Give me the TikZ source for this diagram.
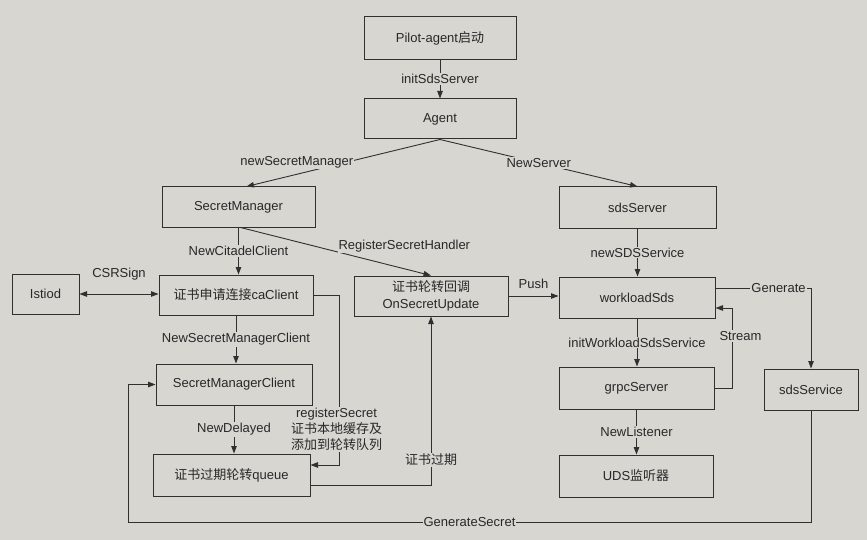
\documentclass[tikz,border=0pt]{standalone}
\usepackage{fontspec}
\setmainfont{Liberation Sans}
\newfontfamily\cjkfont{Noto Sans CJK SC}
\newcommand{\zhtxt}[1]{{\cjkfont #1}}
\usetikzlibrary{arrows.meta,calc}
\definecolor{bgc}{RGB}{216,214,209}
\definecolor{linec}{RGB}{48,48,48}
\definecolor{txtc}{RGB}{40,40,40}
\tikzset{
  box/.style={draw=linec, line width=1pt, inner sep=0pt, align=center, text=txtc,
    font=\fontsize{13}{15.5}\selectfont},
  lbl/.style={fill=bgc, inner sep=1pt, text=txtc, align=center,
    font=\fontsize{13}{15.5}\selectfont},
  arr/.style={draw=linec, line width=0.9pt, -{Triangle[length=7.5pt,width=5.5pt]}},
  darr/.style={draw=linec, line width=0.9pt, {Triangle[length=7.5pt,width=5.5pt]}-{Triangle[length=7.5pt,width=5.5pt]}}
}
\begin{document}
\begin{tikzpicture}[x=1pt,y=-1pt]
\fill[bgc] (0,0) rectangle (867,540);
\useasboundingbox (0,0) rectangle (867,540);

% boxes
\node[box, minimum width=152pt, minimum height=43pt] (pa) at (440,38) {Pilot-agent\zhtxt{启动}};
\node[box, minimum width=152pt, minimum height=40pt] (agent) at (440,119) {Agent};
\node[box, minimum width=153pt, minimum height=40pt] (sm) at (238.5,207) {SecretManager};
\node[box, minimum width=157pt, minimum height=41pt] (sds) at (637.5,207.5) {sdsServer};
\node[box, minimum width=67pt, minimum height=40pt] (istiod) at (45.5,294) {Istiod};
\node[box, minimum width=154pt, minimum height=40pt] (ca) at (236,295) {\zhtxt{证书申请连接}caClient};
\node[box, minimum width=154pt, minimum height=40pt] (osu) at (431,296) {\zhtxt{证书轮转回调}\\[1pt]OnSecretUpdate};
\node[box, minimum width=156pt, minimum height=41pt] (wsds) at (637,297.5) {workloadSds};
\node[box, minimum width=156pt, minimum height=41pt] (smc) at (234,384.5) {SecretManagerClient};
\node[box, minimum width=155pt, minimum height=42pt] (grpc) at (636.5,388) {grpcServer};
\node[box, minimum width=94pt, minimum height=41pt] (sdss) at (811,389.5) {sdsService};
\node[box, minimum width=157pt, minimum height=42pt] (queue) at (231.5,475) {\zhtxt{证书过期轮转}queue};
\node[box, minimum width=154pt, minimum height=42pt] (uds) at (636,476) {UDS\zhtxt{监听器}};

% connectors
\draw[arr] (pa.south) -- node[lbl]{initSdsServer} (agent.north);
\draw[arr] (agent.south) -- node[lbl, pos=0.74, yshift=12pt]{newSecretManager} ([xshift=8pt]sm.north);
\draw[arr] (agent.south) -- node[lbl, pos=0.5]{NewServer} (sds.north);
\draw[arr] (sm.south) -- node[lbl]{NewCitadelClient} (sm.south |- ca.north);
\draw[arr] ([xshift=2pt]sm.south) -- node[lbl, pos=0.86, yshift=23pt]{RegisterSecretHandler} (osu.north);
\draw[darr] (istiod.east) -- node[lbl, yshift=20pt]{CSRSign} (istiod.east -| ca.west);
\draw[arr] (ca.south) -- node[lbl]{NewSecretManagerClient} (ca.south |- smc.north);
\draw[arr] (ca.east) -- ++(26,0) -- node[lbl, pos=0.79, xshift=-3pt]{registerSecret\\[0.5pt]\zhtxt{证书本地缓存及}\\[0.5pt]\zhtxt{添加到轮转队列}} ++(0,170) -- ([yshift=10pt]queue.east);
\draw[arr] (smc.south) -- node[lbl]{NewDelayed} (smc.south |- queue.north);
\draw[arr] ([yshift=-10pt]queue.east) -- ([yshift=-10pt]queue.east -| osu.south) -- node[lbl, pos=0.15]{\zhtxt{证书过期}} (osu.south);
\draw[arr] (osu.east) -- node[lbl, yshift=12pt]{Push} (osu.east -| wsds.west);
\draw[arr] (sds.south) -- node[lbl]{newSDSService} (sds.south |- wsds.north);
\draw[arr] ([yshift=9.5pt]wsds.east) -| node[lbl, pos=0.33]{Generate} (sdss.north);
\draw[arr] (grpc.east) -- ++(18,0) -- node[lbl, pos=0.65, xshift=8pt]{Stream} ++(0,-80) -- ([yshift=-10.5pt]wsds.east);
\draw[arr] (wsds.south) -- node[lbl]{initWorkloadSdsService} (wsds.south |- grpc.north);
\draw[arr] (grpc.south) -- node[lbl]{NewListener} (grpc.south |- uds.north);
\draw[arr] (sdss.south) -- ++(0,112) -- node[lbl]{GenerateSecret} ++(-683,0) |- (smc.west);
\end{tikzpicture}
\end{document}
